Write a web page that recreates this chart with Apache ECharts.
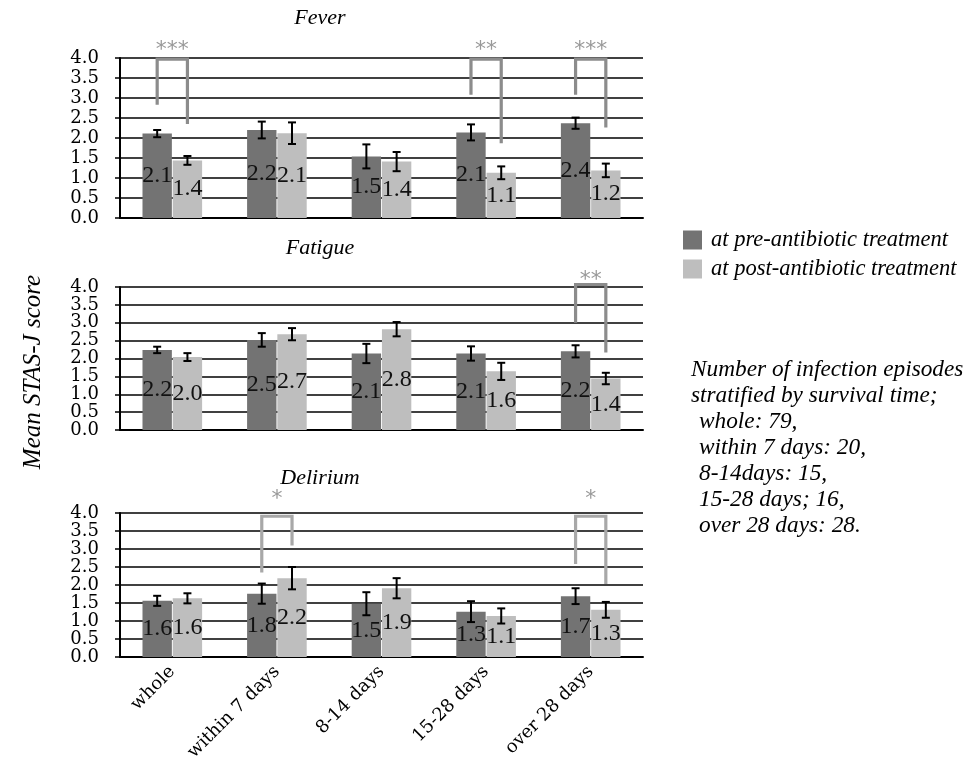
<!DOCTYPE html>
<html><head><meta charset="utf-8">
<script src="https://cdn.jsdelivr.net/npm/echarts@6/dist/echarts.min.js"></script>
<style>html,body{margin:0;padding:0;background:#fff}#c{width:975px;height:767px}</style>
</head><body><div id="c"></div>
<script>
// ---------- data ----------
const categories = ['whole', 'within 7 days', '8-14 days', '15-28 days', 'over 28 days'];
const seriesNames = ['at pre-antibiotic treatment', 'at post-antibiotic treatment'];
const panelTitles = ['Fever', 'Fatigue', 'Delirium'];
const yAxisTitle = 'Mean STAS-J score';

const feverPre = [2.11, 2.20, 1.54, 2.14, 2.37];
const feverPost = [1.44, 2.12, 1.41, 1.13, 1.19];
const feverPreErr = [0.09, 0.21, 0.30, 0.20, 0.14];
const feverPostErr = [0.11, 0.27, 0.24, 0.16, 0.17];

const fatiguePre = [2.24, 2.52, 2.14, 2.14, 2.20];
const fatiguePost = [2.04, 2.68, 2.82, 1.64, 1.44];
const fatiguePreErr = [0.09, 0.19, 0.27, 0.20, 0.17];
const fatiguePostErr = [0.11, 0.17, 0.20, 0.24, 0.16];

const deliriumPre = [1.56, 1.76, 1.48, 1.26, 1.69];
const deliriumPost = [1.63, 2.19, 1.91, 1.14, 1.31];
const deliriumPreErr = [0.14, 0.28, 0.32, 0.29, 0.22];
const deliriumPostErr = [0.14, 0.31, 0.28, 0.21, 0.22];

// significance brackets: [category index, left leg bottom, right leg bottom, bracket top, star level]
const feverSig = [[0, 2.83, 2.35, 3.97, 4.2], [3, 3.08, 1.87, 3.97, 4.2], [4, 3.08, 2.26, 3.97, 4.2]];
const feverStars = ['***', '**', '***'];
const fatigueSig = [[4, 3.00, 2.17, 4.07, 4.2]];
const fatigueStars = ['**'];
const deliriumSig = [[1, 2.35, 3.10, 3.91, 4.39], [4, 2.58, 2.03, 3.91, 4.39]];
const deliriumStars = ['*', '*'];

const infoLines = ['Number of infection episodes', 'stratified by survival time;', 'whole: 79,',
  'within 7 days: 20,', '8-14days: 15,', '15-28 days; 16,', 'over 28 days: 28.'];

// ---------- layout / style ----------
const panels = [
  { pre: feverPre, post: feverPost, preErr: feverPreErr, postErr: feverPostErr, sig: feverSig, stars: feverStars,
    top: 58, height: 160, titleY: 18, bracketColor: '#8c8c8c' },
  { pre: fatiguePre, post: fatiguePost, preErr: fatiguePreErr, postErr: fatiguePostErr, sig: fatigueSig, stars: fatigueStars,
    top: 287, height: 143, titleY: 248, bracketColor: '#8c8c8c' },
  { pre: deliriumPre, post: deliriumPost, preErr: deliriumPreErr, postErr: deliriumPostErr, sig: deliriumSig, stars: deliriumStars,
    top: 513, height: 144, titleY: 478, bracketColor: '#a8a8a8' }
];
const GRID_LEFT = 120, GRID_WIDTH = 523;
const CAT_GAP = 0.43, BAR_GAP = 0.03;
const PRE_COLOR = '#737373', POST_COLOR = '#bebebe';

function barOffset(band) {
  const bw = band * (1 - CAT_GAP) / (2 + BAR_GAP);
  return bw / 2 * (1 + BAR_GAP);
}

const grids = [], xAxes = [], yAxes = [], series = [], graphics = [];

panels.forEach((p, i) => {
  grids.push({ left: GRID_LEFT, top: p.top, width: GRID_WIDTH, height: p.height, containLabel: false });
  xAxes.push({
    type: 'category', gridIndex: i, data: categories,
    axisLine: { show: true, lineStyle: { color: '#000', width: 2 } },
    axisTick: { show: false },
    axisLabel: i === 2 ? { show: true, interval: 0, rotate: 45, fontFamily: 'DejaVu Serif', fontSize: 18, color: '#000', margin: 12 } : { show: false }
  });
  yAxes.push({
    type: 'value', gridIndex: i, min: 0, max: 4, interval: 0.5,
    axisLine: { show: true, lineStyle: { color: '#000', width: 2 } },
    axisTick: { show: true, length: 5, lineStyle: { color: '#000', width: 1.5 } },
    splitLine: { show: true, lineStyle: { color: '#000', width: 1.7 } },
    axisLabel: { formatter: v => v.toFixed(1), fontFamily: 'DejaVu Serif', fontSize: 18, color: '#000', margin: 21 }
  });
  const labelCfg = { show: true, position: 'inside', formatter: d => d.value.toFixed(1),
    fontFamily: 'Liberation Serif', fontSize: 24, color: '#111' };
  series.push({ name: seriesNames[0], type: 'bar', xAxisIndex: i, yAxisIndex: i, data: p.pre,
    barCategoryGap: (CAT_GAP * 100) + '%', barGap: (BAR_GAP * 100) + '%',
    itemStyle: { color: PRE_COLOR }, label: labelCfg, z: 2 });
  series.push({ name: seriesNames[1], type: 'bar', xAxisIndex: i, yAxisIndex: i, data: p.post,
    barCategoryGap: (CAT_GAP * 100) + '%', barGap: (BAR_GAP * 100) + '%',
    itemStyle: { color: POST_COLOR }, label: labelCfg, z: 2 });

  const errData = [];
  p.pre.forEach((v, k) => errData.push([k, v, p.preErr[k], -1]));
  p.post.forEach((v, k) => errData.push([k, v, p.postErr[k], 1]));
  series.push({
    type: 'custom', xAxisIndex: i, yAxisIndex: i, data: errData, z: 5, silent: true,
    renderItem: (params, api) => {
      const cat = api.value(0), m = api.value(1), e = api.value(2), side = api.value(3);
      const band = api.size([1, 0])[0];
      const cx = api.coord([cat, 0])[0] + side * barOffset(band);
      const yt = api.coord([cat, m + e])[1], yb = api.coord([cat, m - e])[1];
      const st = { stroke: '#000', lineWidth: 2 };
      return { type: 'group', children: [
        { type: 'line', shape: { x1: cx, y1: yt, x2: cx, y2: yb }, style: st },
        { type: 'line', shape: { x1: cx - 4, y1: yt, x2: cx + 4, y2: yt }, style: st },
        { type: 'line', shape: { x1: cx - 4, y1: yb, x2: cx + 4, y2: yb }, style: st }
      ] };
    }
  });

  series.push({
    type: 'custom', xAxisIndex: i, yAxisIndex: i, data: p.sig, z: 6, silent: true, clip: false,
    renderItem: (params, api) => {
      const cat = api.value(0), lb = api.value(1), rb = api.value(2), tp = api.value(3), sl = api.value(4);
      const band = api.size([1, 0])[0];
      const c = api.coord([cat, 0])[0], off = barOffset(band);
      const xl = c - off, xr = c + off;
      const yl = api.coord([cat, lb])[1], yr = api.coord([cat, rb])[1], yt = api.coord([cat, tp])[1];
      const ys = api.coord([cat, sl])[1];
      return { type: 'group', children: [
        { type: 'polyline', shape: { points: [[xl, yl], [xl, yt], [xr, yt], [xr, yr]] },
          style: { stroke: p.bracketColor, lineWidth: 3.2, fill: null } },
        { type: 'text', x: (xl + xr) / 2, y: ys,
          style: { text: p.stars[params.dataIndex], fill: '#999', font: '22px "DejaVu Sans"',
                   textAlign: 'center', textVerticalAlign: 'middle' } }
      ] };
    }
  });

  graphics.push({ type: 'text', x: 320, y: p.titleY,
    style: { text: panelTitles[i], font: 'italic 22px "Liberation Serif"', fill: '#000',
             textAlign: 'center', textVerticalAlign: 'middle' } });
});

graphics.push({ type: 'text', x: 33, y: 372, rotation: Math.PI / 2,
  style: { text: yAxisTitle, font: 'italic 25px "Liberation Serif"', fill: '#000',
           textAlign: 'center', textVerticalAlign: 'middle' } });

infoLines.forEach((t, k) => {
  graphics.push({ type: 'text', x: k < 2 ? 691 : 699, y: 370 + k * 26,
    style: { text: t, font: 'italic 23.3px "Liberation Serif"', fill: '#000', textVerticalAlign: 'middle' } });
});

const chart = echarts.init(document.getElementById('c'), null, { renderer: 'canvas' });
chart.setOption({
  animation: false,
  backgroundColor: '#fff',
  grid: grids, xAxis: xAxes, yAxis: yAxes, series: series,
  legend: {
    data: seriesNames, orient: 'vertical', left: 683, top: 228, padding: 0,
    itemWidth: 19, itemHeight: 19, itemGap: 5, icon: 'rect',
    textStyle: { fontFamily: 'Liberation Serif', fontStyle: 'italic', fontSize: 22.5, lineHeight: 24, color: '#000', padding: [0, 0, 0, 4] }
  },
  graphic: graphics
});
</script></body></html>
